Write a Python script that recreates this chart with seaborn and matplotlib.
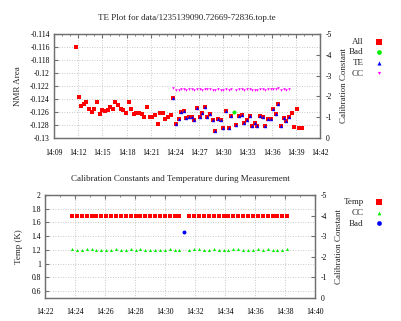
import matplotlib
matplotlib.use("Agg")
import numpy as np
import pandas as pd
import matplotlib.pyplot as plt
import seaborn as sns
from matplotlib.ticker import FuncFormatter, MultipleLocator

# ---------------- data ----------------
# measurement times in minutes after 14:00
time_min = [11.73, 12.06, 12.38, 12.71, 13.03, 13.36, 13.69, 14.01, 14.34, 14.66,
            14.99, 15.32, 15.64, 15.97, 16.29, 16.62, 16.95, 17.27, 17.60, 17.92,
            18.25, 18.58, 18.90, 19.23, 19.55, 19.88, 20.21, 20.53, 20.86, 21.18,
            21.51, 21.84, 22.16, 22.49, 22.81, 23.14, 23.47, 23.79, 24.12, 24.44,
            24.77, 25.10, 25.42, 25.75, 26.07, 26.40, 26.73, 27.05, 27.38, 27.70,
            28.03, 28.36, 28.68, 29.01, 29.33, 29.66, 29.99, 30.31, 30.64, 30.96,
            31.29, 31.62, 31.94, 32.27, 32.59, 32.92, 33.25, 33.57, 33.90, 34.22,
            34.55, 34.88, 35.20, 35.53, 35.85, 36.18, 36.51, 36.83, 37.16, 37.48,
            37.81, 38.14, 38.46, 38.79, 39.11, 39.44, 39.77]

nmr_area = [-0.1160, -0.1237, -0.1251, -0.1248, -0.1245, -0.1255, -0.1260, -0.1255, -0.1244, -0.1263,
            -0.1257, -0.1258, -0.1257, -0.1253, -0.1256, -0.1245, -0.1249, -0.1255, -0.1257, -0.1261,
            -0.1245, -0.1255, -0.1263, -0.1261, -0.1262, -0.1263, -0.1267, -0.1253, -0.1267, -0.1267,
            -0.1264, -0.1278, -0.1261, -0.1261, -0.1271, -0.1267, -0.1264, -0.1238, -0.1278, -0.1270,
            -0.1260, -0.1258, -0.1269, -0.1268, -0.1267, -0.1272, -0.1254, -0.1268, -0.1262, -0.1252,
            -0.1268, -0.1263, -0.1272, -0.1289, -0.1271, -0.1273, -0.1285, -0.1259, -0.1284, -0.1266,
            -0.1260, -0.1280, -0.1266, -0.1264, -0.1277, -0.1273, -0.1266, -0.1282, -0.1277, -0.1282,
            -0.1266, -0.1268, -0.1282, -0.1270, -0.1270, -0.1256, -0.1263, -0.1247, -0.1281, -0.1269,
            -0.1274, -0.1267, -0.1262, -0.1283, -0.1255, -0.1285, -0.1285]

TE_FIRST = 37   # first point used for thermal equilibrium
TE_LAST = 81    # last point used for thermal equilibrium
BAD_INDEX = 60  # rejected point

# calibration constant for each TE point (None = bad point)
cal_const = [-2.39, -2.33, -2.33, -2.36, -2.36, -2.33, -2.35, -2.35, -2.33, -2.36,
             -2.35, -2.33, -2.38, -2.35, -2.36, -2.33, -2.31, -2.35, -2.33, -2.31,
             -2.36, -2.31, -2.35, None, -2.31, -2.36, -2.36, -2.31, -2.35, -2.36,
             -2.31, -2.33, -2.33, -2.36, -2.36, -2.31, -2.35, -2.35, -2.38, -2.35,
             -2.39, -2.33, -2.35, -2.33, -2.36]
temp_k = [1.70] * 23 + [None] + [1.70] * 21
bad_temp = 1.46

top_xticks = [9, 12, 15, 18, 21, 24, 27, 30, 33, 36, 39, 42]
bot_xticks = [22, 24, 26, 28, 30, 32, 34, 36, 38, 40]

# ---------------- frames ----------------
n = len(time_min)
cat = []
for i in range(n):
    if i == BAD_INDEX:
        cat.append("Bad")
    elif TE_FIRST <= i <= TE_LAST:
        cat.append("TE")
    else:
        cat.append("Other")
df = pd.DataFrame({"t": time_min, "nmr": nmr_area, "cat": cat})
te_t = time_min[TE_FIRST:TE_LAST + 1]
te_df = pd.DataFrame({"t": te_t, "cc": cal_const, "temp": temp_k})
te_df["cc"] = pd.to_numeric(te_df["cc"])
te_df["temp"] = pd.to_numeric(te_df["temp"])
bad_t = time_min[BAD_INDEX]

# ---------------- style ----------------
sns.set_style("white")
plt.rcParams["font.family"] = ["Liberation Serif", "DejaVu Serif"]
FRAME = "#707070"
GRID = "#b8b8b8"

fig = plt.figure(figsize=(4.02, 3.21), dpi=100)

def fmt_time(v, _):
    return "14:%02d" % int(round(v))

def fmt_g(v, _):
    return "%g" % round(v, 6)

def style_axes(ax, axr):
    for a in (ax, axr):
        for s in a.spines.values():
            s.set_color(FRAME)
            s.set_linewidth(0.9)
    ax.grid(True, which="major", linestyle=(0, (1, 2)), color=GRID, linewidth=0.6)
    ax.set_axisbelow(True)
    ax.xaxis.set_major_formatter(FuncFormatter(fmt_time))
    ax.xaxis.set_minor_locator(MultipleLocator(1))
    ax.yaxis.set_major_formatter(FuncFormatter(fmt_g))
    axr.yaxis.set_major_formatter(FuncFormatter(fmt_g))
    ax.tick_params(axis="both", which="both", direction="in", colors=FRAME,
                   labelcolor="black", labelsize=5.5, top=True, right=False)
    ax.tick_params(axis="x", which="major", length=3, pad=8)
    ax.tick_params(axis="x", which="minor", length=1.5)
    ax.tick_params(axis="y", which="major", length=3, pad=3)
    axr.tick_params(axis="y", direction="in", colors=FRAME, labelcolor="black",
                    labelsize=5.5, length=3, pad=4)

# ---------------- top panel ----------------
ax1 = fig.add_axes([0.1343, 0.570, 0.662, 0.324])
ax1r = ax1.twinx()

sns.scatterplot(data=df[df["cat"] != "Bad"], x="t", y="nmr", ax=ax1, marker="s",
                color="#ff0000", s=10, linewidth=0, label="All", zorder=3)
sns.scatterplot(data=df[df["cat"] == "Bad"], x="t", y="nmr", ax=ax1, marker="o",
                color="#00ee00", s=8, linewidth=0, label="Bad", zorder=4)
sns.scatterplot(data=df[df["cat"] == "TE"], x="t", y="nmr", ax=ax1, marker="^",
                color="#0000ff", s=6, linewidth=0, label="TE", zorder=4)
sns.scatterplot(data=te_df, x="t", y="cc", ax=ax1r, marker="v",
                color="#ff00ff", s=3.5, linewidth=0, label="CC", zorder=4)

ax1.set_xlim(9, 42)
ax1.set_xticks(top_xticks)
ax1.set_ylim(-0.13, -0.114)
ax1.set_yticks(np.arange(-0.13, -0.1139, 0.002))
ax1r.set_ylim(0, -5)
ax1r.set_yticks([0, -1, -2, -3, -4, -5])
ax1.set_xlabel("")
ax1.set_ylabel("NMR Area", fontsize=6.5, labelpad=6)
ax1r.set_ylabel("Calibration Constant", fontsize=6.5, labelpad=6)
ax1.set_title("TE Plot for data/1235139090.72669-72836.top.te", fontsize=6.5, pad=10)
style_axes(ax1, ax1r)

h1, l1 = ax1.get_legend_handles_labels()
h2, l2 = ax1r.get_legend_handles_labels()
ax1.get_legend().remove() if ax1.get_legend() else None
ax1r.get_legend().remove() if ax1r.get_legend() else None
fig.legend(h1 + h2, l1 + l2, loc="upper right", bbox_to_anchor=(0.965, 0.897),
           frameon=False, markerfirst=False, fontsize=6.5, handlelength=1.0,
           handletextpad=1.2, labelspacing=0.25, borderpad=0, markerscale=1.2)

# ---------------- bottom panel ----------------
ax2 = fig.add_axes([0.112, 0.0717, 0.672, 0.321])
ax2r = ax2.twinx()

sns.scatterplot(data=te_df, x="t", y="temp", ax=ax2, marker="s", color="#ff0000",
                s=10, linewidth=0, label="Temp", zorder=3)
sns.scatterplot(data=te_df, x="t", y="cc", ax=ax2r, marker="^", color="#00ee00",
                s=5, linewidth=0, label="CC", zorder=3)
sns.scatterplot(x=[bad_t], y=[bad_temp], ax=ax2, marker="o", color="#0000ff",
                s=8, linewidth=0, label="Bad", zorder=3)

ax2.set_xlim(22, 40)
ax2.set_xticks(bot_xticks)
ax2.set_ylim(0.5, 2.0)
ax2.set_yticks(np.arange(0.6, 2.01, 0.2))
ax2r.set_ylim(0, -5)
ax2r.set_yticks([0, -1, -2, -3, -4, -5])
ax2.set_xlabel("")
ax2.set_ylabel("Temp (K)", fontsize=6.5, labelpad=6)
ax2r.set_ylabel("Calibration Constant", fontsize=6.5, labelpad=6)
ax2.set_title("Calibration Constants and Temperature during Measurement", fontsize=6.5, pad=10)
style_axes(ax2, ax2r)
ax2.tick_params(axis="x", which="major", pad=7)

h1, l1 = ax2.get_legend_handles_labels()
h2, l2 = ax2r.get_legend_handles_labels()
ax2.get_legend().remove() if ax2.get_legend() else None
ax2r.get_legend().remove() if ax2r.get_legend() else None
hh = [h1[0], h2[0], h1[1]]
ll = [l1[0], l2[0], l1[1]]
fig.legend(hh, ll, loc="upper right", bbox_to_anchor=(0.965, 0.397),
           frameon=False, markerfirst=False, fontsize=6.5, handlelength=1.0,
           handletextpad=1.2, labelspacing=0.25, borderpad=0, markerscale=1.2)

fig.savefig("out.png", dpi=100)
